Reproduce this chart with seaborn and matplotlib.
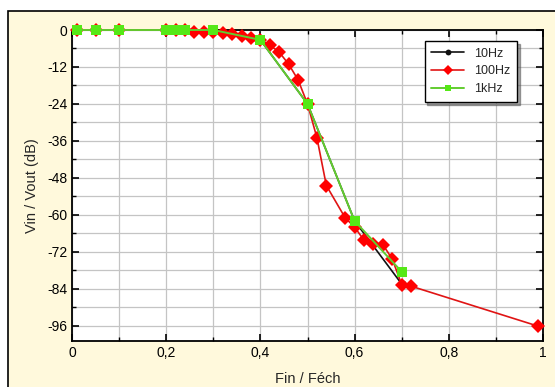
import numpy as np
import pandas as pd
import matplotlib
matplotlib.use("Agg")
import matplotlib.pyplot as plt
import matplotlib.ticker as mticker
from matplotlib.patches import Rectangle
import seaborn as sns

# frequence normalisee Fin / Fech et gain mesure en dB
freq_10hz = [0.01, 0.05, 0.10, 0.20, 0.22, 0.24, 0.30, 0.40, 0.50, 0.60, 0.70]
gain_10hz = [0, 0, 0, 0, 0, 0, 0, -3.2, -24, -62, -82.5]

freq_100hz = [0.01, 0.05, 0.10, 0.20, 0.22, 0.24, 0.26, 0.28, 0.30, 0.32,
              0.34, 0.36, 0.38, 0.40, 0.42, 0.44, 0.46, 0.48, 0.50, 0.52,
              0.54, 0.58, 0.60, 0.62, 0.64, 0.66, 0.68, 0.70, 0.72, 0.99]
gain_100hz = [0, 0, 0, 0, 0, 0, -0.5, -0.5, -0.6, -1.0,
              -1.4, -1.8, -2.5, -3.2, -4.9, -7.2, -11.1, -16.2, -24, -35,
              -50.5, -61, -64, -68.3, -69.4, -69.7, -74.4, -82.7, -83.2, -96.2]

freq_1khz = [0.01, 0.05, 0.10, 0.20, 0.22, 0.24, 0.30, 0.40, 0.50, 0.60, 0.70]
gain_1khz = [0, 0, 0, 0, 0, 0, 0, -3.2, -24, -62, -78.5]

sns.set_theme(style="white")
plt.rcParams['font.family'] = ['Liberation Sans', 'DejaVu Sans']
plt.rcParams['axes.unicode_minus'] = False

fig = plt.figure(figsize=(5.55, 3.87), dpi=100)
fig.patch.set_facecolor('white')
# fond creme avec bord noir (haut et gauche)
fig.patches.append(Rectangle((8 / 555, -0.1), 1.2, 1 - 11 / 387 + 0.1,
                             transform=fig.transFigure, facecolor='#fff9dc',
                             edgecolor='black', linewidth=1.2, zorder=-1))

ax = fig.add_axes([72 / 555, 1 - 341 / 387, 471 / 555, 311 / 387])
ax.set_facecolor('white')

df10 = pd.DataFrame({'f': freq_10hz, 'g': gain_10hz})
df100 = pd.DataFrame({'f': freq_100hz, 'g': gain_100hz})
df1k = pd.DataFrame({'f': freq_1khz, 'g': gain_1khz})

sns.lineplot(data=df10, x='f', y='g', ax=ax, sort=False, estimator=None,
             color='#111111', marker='o', markersize=6, markeredgewidth=0,
             linewidth=1.2, label='10Hz', clip_on=False, zorder=3)
sns.lineplot(data=df100, x='f', y='g', ax=ax, sort=False, estimator=None,
             color='#e01414', marker='D', markersize=7, markeredgewidth=0,
             markerfacecolor='#ff0000', linewidth=1.2, label='100Hz',
             clip_on=False, zorder=4)
sns.lineplot(data=df1k, x='f', y='g', ax=ax, sort=False, estimator=None,
             color='#62cc30', marker='s', markersize=7, markeredgewidth=0,
             markerfacecolor='#55e816', linewidth=1.4, label='1kHz',
             clip_on=False, zorder=5)

ax.set_xlim(0, 1)
ax.set_ylim(-101, 0)
ax.xaxis.set_major_locator(mticker.MultipleLocator(0.2))
ax.xaxis.set_minor_locator(mticker.MultipleLocator(0.1))
ax.yaxis.set_major_locator(mticker.MultipleLocator(12))
ax.yaxis.set_minor_locator(mticker.MultipleLocator(6))
ax.xaxis.set_major_formatter(mticker.FuncFormatter(
    lambda v, p: f"{v:g}".replace('.', ',')))
ax.yaxis.set_major_formatter(mticker.FuncFormatter(lambda v, p: f"{v:g}"))

ax.grid(True, which='both', color='#c4c4c4', linewidth=0.9)
ax.set_axisbelow(True)
ax.tick_params(which='both', direction='in', top=True, right=True,
               bottom=True, left=True, colors='black', labelsize=10)
ax.tick_params(which='major', length=5, width=1.2)
ax.tick_params(which='minor', length=3, width=1)
for s in ax.spines.values():
    s.set_color('black')
    s.set_linewidth(1.3)

ax.set_xlabel('Fin / Féch', fontsize=10.5, labelpad=9)
ax.set_ylabel('Vin / Vout (dB)', fontsize=10.5, labelpad=6)

leg = ax.legend(loc='upper right', bbox_to_anchor=(0.945, 0.965),
                borderaxespad=0, fancybox=False, shadow=True, framealpha=1,
                edgecolor='black', fontsize=9, handlelength=2.6,
                handletextpad=0.8, labelspacing=0.45, borderpad=0.55,
                markerscale=0.7)
leg.get_frame().set_linewidth(1)
leg.set_zorder(10)

fig.savefig('out.png', dpi=100)
